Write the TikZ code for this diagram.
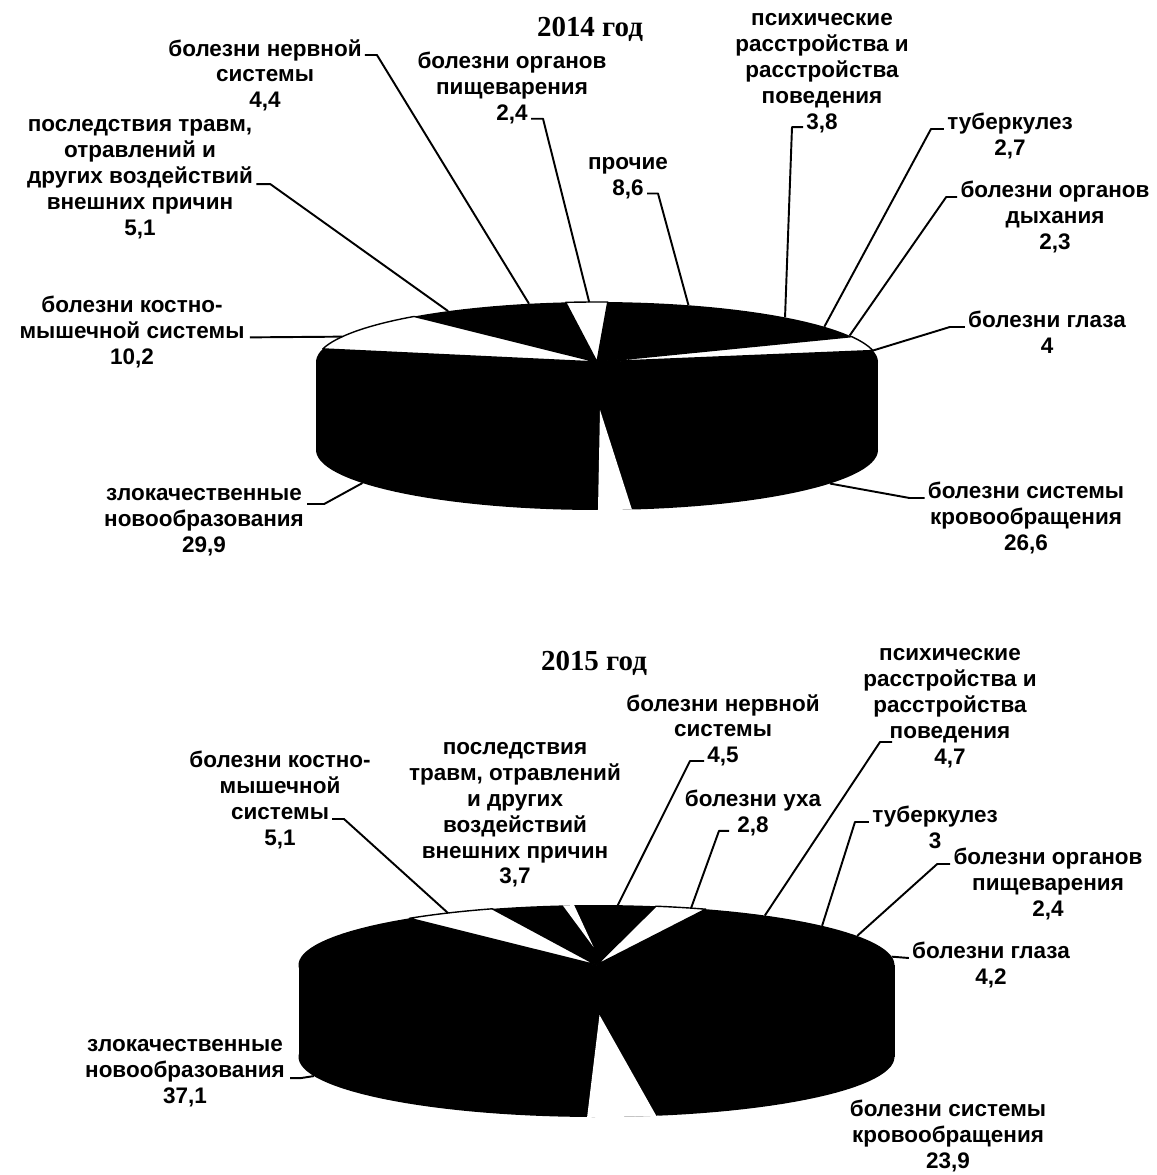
\documentclass[tikz,border=0pt]{standalone}
\usepackage{fontspec}
\setmainfont{Liberation Sans}
\newfontfamily\titlefont{Liberation Serif}

% solid body of a flat 3D pie, the front gap, and the white slice tops
\newcommand{\piebody}{%
  \fill[slab] plot[domain=0:360, samples=120] ({\pcx+\prx*cos(\x)},{\pcy+\pdz-\pry*sin(\x)}) -- cycle;
  \fill[slab] ({\pcx-\prx},{\pcy}) rectangle ({\pcx+\prx},{\pcy+\pdz});
  \fill[slab] plot[domain=0:360, samples=120] ({\pcx+\prx*cos(\x)},{\pcy-\pry*sin(\x)}) -- cycle;
}
\newcommand{\piegap}[3]{%
  \fill[white] ({\pcx+3},{\pcy+#3}) -- plot[domain=#1:#2] ({\pcx+\prx*cos(\x)},{\pcy+\pdz-\pry*sin(\x)})
    -- ++(0,4) -- cycle;
}
\newcommand{\slabtop}[2]{%
  \filldraw[slabtop] ({\pcx},{\pcy}) -- plot[domain=#1:#2] ({\pcx+\prx*cos(\x)},{\pcy-\pry*sin(\x)}) -- cycle;
}
\newcommand{\rimtop}[2]{\coordinate (#1) at ({\pcx+\prx*cos(#2)},{\pcy-\pry*sin(#2)});}
\newcommand{\rimbot}[2]{\coordinate (#1) at ({\pcx+\prx*cos(#2)},{\pcy+\pdz-\pry*sin(#2)});}

\begin{document}
\begin{tikzpicture}[x=0.02cm, y=-0.02cm,
    slab/.style={fill=black},
    slabtop/.style={fill=white, draw=black, line width=0.8pt, line join=round},
    lbl/.style={font=\fontsize{12.8}{14.74}\selectfont\bfseries, align=center, inner sep=0pt, anchor=north,
      execute at begin node=\strut, execute at end node=\strut},
    ttl/.style={font=\titlefont\fontsize{16.5}{18}\selectfont\bfseries, inner sep=0pt, anchor=base},
    leader/.style={line width=1.1pt, line join=round}
]
\useasboundingbox (0,0) rectangle (1156,1175);

% 2014
\def\pcx{597}\def\pcy{362}\def\prx{281}\def\pry{60}\def\pdz{88}
\piebody
\piegap{270.2}{277.4}{48}
\foreach \a/\b in {11/25, 87.8/96.4, 130.6/167.4} {\slabtop{\a}{\b}}
\rimtop{nerv14-r}{104}
\rimtop{posl14-r}{122}
\rimtop{pish14-r}{91.6}
\rimtop{proch14-r}{71}
\rimtop{psych14-r}{48}
\rimtop{tub14-r}{36}
\rimtop{dyh14-r}{26}
\rimtop{glaz14-r}{11}
\rimtop{kost14-r}{155}
\rimbot{zlok14-r}{213.4}
\rimbot{krov14-r}{-34}

\node[ttl] (title14) at (590,37) {2014 год};
\node[lbl] (nerv14) at (265,39) {болезни нервной\\системы\\4,4};
\node[lbl] (posl14) at (140,119) {последствия травм,\\отравлений и\\других воздействий\\внешних причин\\5,1};
\node[lbl] (pish14) at (512,52) {болезни органов\\пищеварения\\2,4};
\node[lbl] (proch14) at (628,157) {прочие\\8,6};
\node[lbl] (psych14) at (822,13) {психические\\расстройства и\\расстройства\\поведения\\3,8};
\node[lbl] (tub14) at (1010,113) {туберкулез\\2,7};
\node[lbl] (dyh14) at (1055,181) {болезни органов\\дыхания\\2,3};
\node[lbl] (glaz14) at (1047,311) {болезни глаза\\4};
\node[lbl] (kost14) at (132,296) {болезни костно-\\мышечной системы\\10,2};
\node[lbl] (zlok14) at (204,488) {злокачественные\\новообразования\\29,9};
\node[lbl] (krov14) at (1026,482) {болезни системы\\кровообращения\\26,6};

\draw[leader] ([shift={(3,16)}]nerv14.north east) -- ++(12,0) -- (nerv14-r);
\draw[leader] ([shift={(3,3)}]posl14.east) -- ++(14,0) -- (posl14-r);
\draw[leader] ([shift={(19,-10)}]pish14.south) -- ++(12,0) -- (pish14-r);
\draw[leader] ([shift={(19,-10)}]proch14.south) -- ++(11,0) -- (proch14-r);
\draw[leader] ([shift={(-19,-10)}]psych14.south) -- ++(-11,0) -- (psych14-r);
\draw[leader] ([shift={(-3,16)}]tub14.north west) -- ++(-13,0) -- (tub14-r);
\draw[leader] ([shift={(-3,16)}]dyh14.north west) -- ++(-11,0) -- (dyh14-r);
\draw[leader] ([shift={(-3,16)}]glaz14.north west) -- ++(-15,0) -- (glaz14-r);
\draw[leader] ([shift={(5,3)}]kost14.east) -- (kost14-r);
\draw[leader] ([shift={(3,16)}]zlok14.north east) -- ++(17,0) -- (zlok14-r);
\draw[leader] ([shift={(-3,16)}]krov14.north west) -- ++(-15,0) -- (krov14-r);

% 2015
\def\pcx{596.5}\def\pcy{965}\def\prx{298}\def\pry{60}\def\pdz{92}
\piebody
\piegap{268.2}{282}{50}
\foreach \a/\b in {68.5/78.5, 110.5/128.9} {\slabtop{\a}{\b}}
\fill[white] ({\pcx-3},{\pcy-18}) -- plot[domain=94.3:96.5, samples=5] ({\pcx+\prx*cos(\x)},{\pcy-\pry*sin(\x)}) -- cycle;
\rimtop{psych15-r}{55.6}
\rimtop{nerv15-r}{85.9}
\rimtop{kost15-r}{119.9}
\rimtop{uha15-r}{71.5}
\rimtop{tub15-r}{40.8}
\rimtop{pish15-r}{29}
\rimtop{glaz15-r}{8}
\rimbot{zlok15-r}{198.5}

\node[ttl] (title15) at (594,670) {2015 год};
\node[lbl] (psych15) at (950,648) {психические\\расстройства и\\расстройства\\поведения\\4,7};
\node[lbl] (nerv15) at (723,694) {болезни нервной\\системы\\4,5};
\node[lbl] (posl15) at (515,742) {последствия\\травм, отравлений\\и других\\воздействий\\внешних причин\\3,7};
\node[lbl] (kost15) at (280,751) {болезни костно-\\мышечной\\системы\\5,1};
\node[lbl] (uha15) at (753,790) {болезни уха\\2,8};
\node[lbl] (tub15) at (935,806) {туберкулез\\3};
\node[lbl] (pish15) at (1048,848) {болезни органов\\пищеварения\\2,4};
\node[lbl] (glaz15) at (991,942) {болезни глаза\\4,2};
\node[lbl] (zlok15) at (185,1039) {злокачественные\\новообразования\\37,1};
\node[lbl] (krov15) at (948,1100) {болезни системы\\кровообращения\\23,9};

\draw[leader] ([shift={(-58,94)}]psych15.north) -- ++(-12,0) -- (psych15-r);
\draw[leader] ([shift={(-19,-10)}]nerv15.south) -- ++(-14,0) -- (nerv15-r);
\draw[leader] ([shift={(52,68)}]kost15.north) -- ++(12,0) -- (kost15-r);
\draw[leader] ([shift={(-24,-10)}]uha15.south) -- ++(-10,0) -- (uha15-r);
\draw[leader] ([shift={(-3,16)}]tub15.north west) -- ++(-14,0) -- (tub15-r);
\draw[leader] ([shift={(-3,16)}]pish15.north west) -- ++(-13,0) -- (pish15-r);
\draw[leader] ([shift={(-3,16)}]glaz15.north west) -- (glaz15-r);
\draw[leader] ([shift={(5,3)}]zlok15.east) -- ++(10,0) -- (zlok15-r);

\end{tikzpicture}
\end{document}
